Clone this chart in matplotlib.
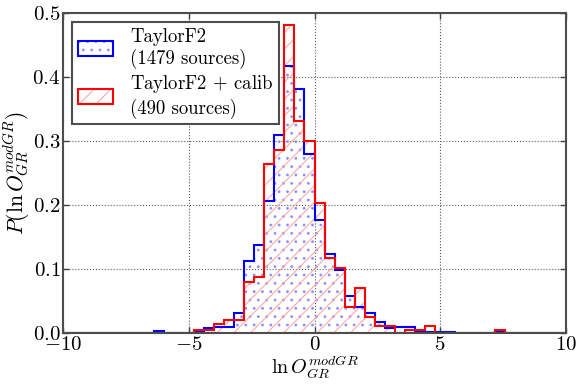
#!/usr/bin/env python3
"""Histogram of ln O_GR^modGR for TaylorF2 with and without calibration."""

import numpy as np
import matplotlib
matplotlib.use("Agg")
import matplotlib.pyplot as plt

# Bin left edges (width 0.4) and normalised densities
BIN_WIDTH = 0.4

blue_left = [-6.4, -4.8, -4.4, -4.0, -3.6, -3.2, -2.8, -2.4, -2.0, -1.6, -1.2, -0.8, -0.4,
             0.0, 0.4, 0.8, 1.2, 1.6, 2.0, 2.4, 2.8, 3.2, 3.6, 4.0, 4.4, 4.8, 5.2, 7.2]
blue_density = [0.0034, 0.0034, 0.0085, 0.0100, 0.0095, 0.032, 0.113, 0.137, 0.206, 0.310,
                0.417, 0.382, 0.280, 0.177, 0.123, 0.098, 0.058, 0.040, 0.032, 0.018,
                0.0085, 0.0100, 0.0100, 0.0034, 0.0017, 0.0017, 0.0017, 0.0017]

red_left = [-4.8, -4.4, -4.0, -3.6, -3.2, -2.8, -2.4, -2.0, -1.6, -1.2, -0.8, -0.4,
            0.0, 0.4, 0.8, 1.2, 1.6, 2.0, 2.4, 2.8, 3.6, 4.0, 4.4, 7.2]
red_density = [0.0051, 0.0051, 0.0143, 0.0204, 0.0204, 0.080, 0.087, 0.264, 0.286,
               0.481, 0.332, 0.300, 0.204, 0.117, 0.102, 0.041, 0.071, 0.0245, 0.0102,
               0.0102, 0.0051, 0.0051, 0.0102, 0.0051]

labels = ["TaylorF2\n(1479 sources)", "TaylorF2 $+$ calib\n(490 sources)"]

plt.rcParams["font.family"] = "serif"
plt.rcParams["font.serif"] = ["cmr10"]
plt.rcParams["mathtext.fontset"] = "cm"
plt.rcParams["axes.formatter.use_mathtext"] = True
plt.rcParams["axes.unicode_minus"] = True
plt.rcParams["hatch.linewidth"] = 0.8

edges = np.arange(-10, 10 + BIN_WIDTH / 2, BIN_WIDTH)

fig = plt.figure(figsize=(5.82, 3.87), dpi=100)
ax = fig.add_axes([0.1088, 0.1395, 0.972 - 0.1088, 0.9656 - 0.1395])

series = [
    (blue_left, blue_density, "blue", "#8f8fff", ".."),
    (red_left, red_density, "red", "#ffa8a8", "//"),
]

fills = []
for left, dens, col, light, hatch in series:
    centers = np.asarray(left) + BIN_WIDTH / 2
    _, _, p = ax.hist(centers, bins=edges, weights=dens, histtype="stepfilled",
                      facecolor="none", edgecolor=light, hatch=hatch, linewidth=0)
    fills.append(p[0])

steps = []
for left, dens, col, light, hatch in series:
    centers = np.asarray(left) + BIN_WIDTH / 2
    _, _, p = ax.hist(centers, bins=edges, weights=dens, histtype="step",
                      color=col, linewidth=1.5)
    steps.append(p[0])

ax.set_xlim(-10, 10)
ax.set_ylim(0, 0.5)
ax.set_xticks([-10, -5, 0, 5, 10])
ax.set_yticks([0.0, 0.1, 0.2, 0.3, 0.4, 0.5])
ax.grid(True, linestyle=":", color="0.35", linewidth=0.8)
ax.set_axisbelow(True)
ax.tick_params(direction="in", length=4, width=1, top=True, right=True,
               labelsize=15, colors="0.25", labelcolor="black", pad=2)
for sp in ax.spines.values():
    sp.set_color("0.3")
    sp.set_linewidth(1.5)

ax.set_xlabel(r"$\ln O_{GR}^{modGR}$", fontsize=14.5, labelpad=0)
ax.set_ylabel(r"$P(\ln O_{GR}^{modGR})$", fontsize=15.5, labelpad=0)

leg = ax.legend([(fills[0], steps[0]), (fills[1], steps[1])], labels,
                loc="upper left", bbox_to_anchor=(0.0173, 0.973), borderaxespad=0,
                fontsize=13.5, fancybox=False, framealpha=1, handlelength=1.9,
                handleheight=0.85, labelspacing=0.25, borderpad=0.3, handletextpad=0.9)
leg.get_frame().set_edgecolor("0.3")
leg.get_frame().set_linewidth(1.5)

fig.savefig("out.png", dpi=100)
